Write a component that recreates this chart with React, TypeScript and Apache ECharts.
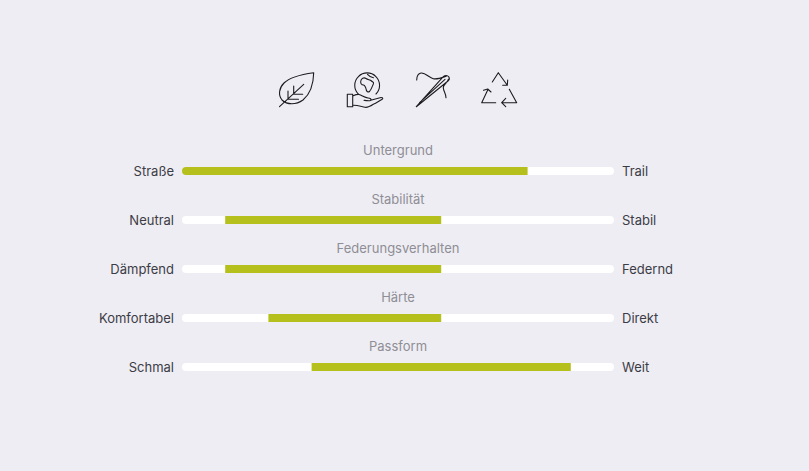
import React, { useEffect, useRef } from "react";
import * as echarts from "echarts";

const titles = ["Untergrund", "Stabilität", "Federungsverhalten", "Härte", "Passform"];
const leftLabels = ["Straße", "Neutral", "Dämpfend", "Komfortabel", "Schmal"];
const rightLabels = ["Trail", "Stabil", "Federnd", "Direkt", "Weit"];
const rangeStart = [0, 10, 10, 20, 30];
const rangeEnd = [80, 60, 60, 60, 90];
const trackMax = [100, 100, 100, 100, 100];

const ICONS: Record<string, string> = {
  iconLeaf:
    "M313.7 72.7 C304 74 291 76 284 83 C279 88 278 95 282 100 C287 105 296 105 303 100 C310 94 313.5 84 313.7 72.7 Z M279.5 106.7 L303.7 84.3 M288 99.3 L288 91 M288 99.3 L298.5 99.3 M293.7 94.3 L293.7 86 M293.7 94.3 L302.7 94.3",
  iconGlobe:
    "M358.3 94 A12.4 12.4 0 1 1 376 94 M367.5 74.3 C369 76 371 77.5 373.5 77.7 M360.7 81.5 C361 78.5 364 77 366 78.5 C368 80 370 79.5 371.5 81 C372.5 82 374 82 373.5 83.5 C372.5 86 371.5 89 369.5 91.5 C368 92.5 366.7 91.5 366.3 90 C365.8 87.5 365 85.5 363.5 85 C361.5 85 360.5 83.5 360.7 81.5 Z M347.3 94.3 L352.7 94.3 L352.7 106.7 L347.3 106.7 Z M352.7 96 C355 95 357 94 359 94.5 C362 95.5 365 97.7 368 98 C370.5 98.3 371.5 99 370.7 100.3 C369.5 101.3 367 100.8 364 100.3 M370.7 100.3 L380 97.7 C382 97.3 383.3 98 382.5 99 C379 101 376 103 373.3 104.3 C370 106.5 367.5 107.7 365 107.3 C361 106.5 357 105 352.7 105.3",
  iconNeedle:
    "M416.3 106.7 L443.3 76.7 C445 75 447.5 75 448.8 76.8 C449.8 78.5 449.3 80 448 81 L416.3 106.7 Z M419.5 102.7 L445 79.3 M416.7 80 C416.8 76.5 418 73.5 421 73 C425.5 72.6 429 77.5 433.3 78.7 C437 79.7 441 78 446.7 76 M448.3 79.3 C447.5 83 443.3 84 443.3 87.7 C443.3 91 446.2 94 446 97.7",
  iconRecycle:
    "M492.3 82 L498.3 72.7 L507.3 85.3 M502.7 85.3 L507.3 85.3 L507.7 80 M495.7 102.7 L481.7 102.7 L487.7 90 M483.5 90.3 L487.7 89 L491 92 M509.3 89.3 L516.7 102.7 L501.7 102.7 M505.7 98.3 L501.7 102.7 L505.7 106.7",
};
Object.entries(ICONS).forEach(([name, d]) => {
  echarts.graphic.registerShape(name, echarts.graphic.extendPath(d, {}) as any);
});

export default function App() {
  const ref = useRef<HTMLDivElement>(null);
  useEffect(() => {
    const chart = echarts.init(ref.current!, null, { renderer: "svg" });
    const font = "Inter, 'Noto Sans', sans-serif";
    const labelColor = "#3c3c46";
    chart.setOption({
      animation: false,
      backgroundColor: "#eeedf3",
      grid: { left: 182, top: 146.5, width: 432, height: 245 },
      xAxis: { type: "value", min: 0, max: 100, show: false },
      yAxis: [
        {
          type: "category",
          inverse: true,
          data: leftLabels,
          axisLine: { show: false },
          axisTick: { show: false },
          splitLine: { show: false },
          axisLabel: { margin: 8, color: labelColor, fontSize: 13, fontFamily: font },
        },
        {
          type: "category",
          inverse: true,
          position: "right",
          data: rightLabels,
          axisLine: { show: false },
          axisTick: { show: false },
          splitLine: { show: false },
          axisLabel: { margin: 8, color: labelColor, fontSize: 13, fontFamily: font },
        },
      ],
      series: [
        {
          type: "bar",
          barWidth: 8,
          barGap: "-100%",
          silent: true,
          data: trackMax,
          itemStyle: { color: "#ffffff", borderRadius: 4 },
          label: {
            show: true,
            position: "inside",
            offset: [0, -21],
            color: "#8e8e96",
            fontSize: 13,
            fontFamily: font,
            formatter: (p: any) => titles[p.dataIndex],
          },
        },
        {
          type: "bar",
          stack: "range",
          barWidth: 8,
          silent: true,
          data: rangeStart,
          itemStyle: { color: "transparent" },
        },
        {
          type: "bar",
          stack: "range",
          barWidth: 8,
          silent: true,
          data: rangeEnd.map((end, i) => ({
            value: end - rangeStart[i],
            itemStyle: {
              color: "#b5c01c",
              borderRadius: rangeStart[i] === 0 ? [4, 0, 0, 4] : 0,
            },
          })),
        },
      ],
      graphic: Object.keys(ICONS).map((name) => ({
        type: name,
        x: 0,
        y: 0,
        silent: true,
        style: { fill: "none", stroke: "#1c1c20", lineWidth: 1.1, lineCap: "round", lineJoin: "round" },
      })),
    });
    return () => chart.dispose();
  }, []);
  return (
    <div
      ref={ref}
      style={{ position: "fixed", left: 0, top: 0, width: 809, height: 471 }}
    />
  );
}
